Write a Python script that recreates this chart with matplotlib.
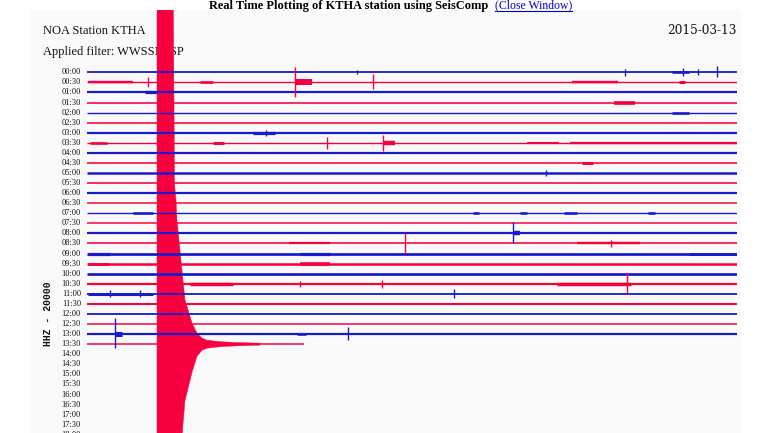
import numpy as np
import matplotlib
matplotlib.use("Agg")
import matplotlib.pyplot as plt
from matplotlib.patches import Rectangle
from matplotlib.lines import Line2D

# ---------------- data ----------------
page_title = "Real Time Plotting of KTHA station using SeisComp"
link_text = "(Close Window)"
station = "NOA Station KTHA"
date_label = "2015-03-13"
filter_label = "Applied filter: WWSSN_SP"
channel_label = "HHZ - 20000"

# hour labels visible in the window (00:00 ... 18:00)
row_labels = [f"{h:02d}:{m:02d}" for h in range(19) for m in (0, 30)][:37]

# minutes of data in each 30-minute trace (00:00 ... 13:30)
trace_minutes = [30.0] * 27 + [10.02]

# background noise half-amplitude per trace (in trace-spacing units)
noise = [0.09, 0.07, 0.11, 0.08, 0.07, 0.08, 0.11, 0.07, 0.11, 0.08,
         0.125, 0.08, 0.11, 0.075, 0.07, 0.075, 0.11, 0.08, 0.135, 0.125,
         0.135, 0.11, 0.09, 0.10, 0.09, 0.075, 0.11, 0.075]

# isolated events: row, minute, amplitude up, amplitude down
spike_row = [0, 0, 0, 0, 0, 1, 1, 1, 6, 7, 7, 10, 16, 17, 17, 21, 21, 21, 22, 22, 22, 26, 26]
spike_min = [12.46, 24.83, 27.5, 28.2, 29.08, 2.82, 9.6, 13.2, 8.26, 11.08, 13.66, 21.2,
             19.66, 14.68, 24.2, 9.83, 13.6, 24.9, 1.06, 2.45, 16.94, 1.29, 12.05]
spike_up = [0.2, 0.35, 0.4, 0.3, 0.6, 0.5, 1.5, 0.8, 0.3, 0.6, 0.8, 0.3,
            1.1, 1.0, 0.35, 0.3, 0.4, 1.1, 0.35, 0.35, 0.45, 1.6, 0.7]
spike_down = [0.2, 0.35, 0.4, 0.3, 0.5, 0.5, 1.5, 0.7, 0.3, 0.6, 0.8, 0.3,
              1.0, 0.9, 0.3, 0.3, 0.4, 1.0, 0.35, 0.35, 0.45, 1.4, 0.6]

# noisy bursts: row, start minute, end minute, half-amplitude
burst_row = [0, 1, 1, 1, 1, 1, 2, 3, 4, 6, 7, 7, 7, 7, 7, 9, 14, 14, 14, 14, 14,
             16, 17, 17, 18, 18, 18, 19, 19, 21, 21, 22, 26, 26]
burst_start = [27.0, 0.05, 5.2, 9.6, 22.4, 27.3, 2.68, 24.3, 27.0, 7.66, 0.14, 5.8, 13.66, 20.3, 22.3,
               22.85, 2.1, 17.8, 20.0, 22.0, 25.9, 19.66, 9.3, 22.6, 0.05, 9.83, 27.8, 9.83, 0.05,
               4.75, 21.7, 0.05, 1.29, 9.7]
burst_end = [27.8, 2.12, 5.8, 10.4, 24.5, 27.6, 3.23, 25.3, 27.8, 8.68, 0.92, 6.3, 14.2, 21.8, 30.0,
             23.35, 3.05, 18.1, 20.3, 22.6, 26.2, 20.0, 11.2, 25.5, 1.06, 11.2, 30.0, 11.2, 1.0,
             6.74, 25.1, 3.05, 1.6, 10.1]
burst_amp = [0.13, 0.12, 0.13, 0.3, 0.12, 0.15, 0.16, 0.18, 0.13, 0.16, 0.13, 0.15, 0.22, 0.1, 0.11,
             0.15, 0.13, 0.13, 0.13, 0.13, 0.13, 0.22, 0.11, 0.12, 0.16, 0.16, 0.15, 0.18, 0.14,
             0.17, 0.17, 0.15, 0.25, 0.13]

# large earthquake on the 13:30 trace: envelope (minutes, amplitude up / down in trace units)
quake_row = 27
quake_min = [3.231, 3.969, 4.038, 4.108, 4.154, 4.246, 4.338, 4.431, 4.523, 4.708,
             4.846, 5.077, 5.308, 5.538, 5.908, 6.369, 7.062, 7.985]
quake_up = [39.7, 39.7, 15.9, 14.3, 12.3, 10.3, 8.3, 6.3, 4.4, 3.1,
            2.1, 1.1, 0.6, 0.4, 0.3, 0.22, 0.15, 0.1]
quake_down = [39.7, 39.7, 29.8, 24.8, 19.8, 14.9, 10.9, 7.9, 5.6, 4.0,
              2.8, 1.2, 0.6, 0.4, 0.3, 0.22, 0.15, 0.1]

BLUE = "#1a1acc"
RED = "#f80040"

# ---------------- layout ----------------
W, H = 770, 433
fig = plt.figure(figsize=(W / 100, H / 100), dpi=100)
fig.patch.set_facecolor("white")

bg = fig.add_axes([0, 0, 1, 1])
bg.set_xlim(0, W)
bg.set_ylim(H, 0)
bg.axis("off")
bg.set_zorder(1)
bg.add_patch(Rectangle((30, 10), 711, 430, facecolor="#fafafa", edgecolor="none"))

serif = "Liberation Serif"
bg.text(43, 31, station, fontsize=9, family=serif, color="#111111", va="center", ha="left")
bg.text(737, 31, date_label, fontsize=8.7, family="DejaVu Serif", color="#111111",
        va="center", ha="right")
bg.text(43, 52, filter_label, fontsize=9, family=serif, color="#111111", va="center", ha="left")
bg.text(48, 314, channel_label, fontsize=7, family="Liberation Mono", weight="bold",
        color="#111111", va="center", ha="center", rotation=90)

t1 = bg.text(209, 8.5, page_title, fontsize=8.9, family=serif, weight="bold",
             color="black", va="baseline", ha="left")
t2 = bg.text(495, 8.5, link_text, fontsize=8.5, family=serif,
             color="#0000cc", va="baseline", ha="left")

x0, x1 = 87, 737
top, bot = 10, 433
row0, pitch = 72.3, 10.07
ax = fig.add_axes([x0 / W, 0, (x1 - x0) / W, (bot - top) / H])
ax.set_zorder(2)
ax.set_xlim(0, 30)
ax.set_ylim((bot - row0) / pitch, (top - row0) / pitch)
ax.axis("off")
pt_per_row = pitch * 72 / 100

for i, end in enumerate(trace_minutes):
    c = BLUE if i % 2 == 0 else RED
    ax.plot([0, end], [i, i], color=c, lw=max(2 * noise[i] * pt_per_row, 1.0),
            solid_capstyle="butt")

for r, s, e, a in zip(burst_row, burst_start, burst_end, burst_amp):
    c = BLUE if r % 2 == 0 else RED
    ax.plot([s, e], [r, r], color=c, lw=2 * a * pt_per_row, solid_capstyle="butt")

for r, t, u, d in zip(spike_row, spike_min, spike_up, spike_down):
    c = BLUE if r % 2 == 0 else RED
    ax.vlines(t, r - u, r + d, color=c, lw=1.0)

qm = np.array(quake_min)
ax.fill_between(qm, quake_row - np.array(quake_up), quake_row + np.array(quake_down),
                color=RED, lw=0.3, edgecolor=RED)

for i, lab in enumerate(row_labels):
    ax.text(-0.28, i, lab, ha="right", va="center", fontsize=6, family=serif,
            color="#111111", clip_on=False)

# underline for the link
fig.canvas.draw()
bb = t2.get_window_extent()
uy = bb.y0 + 0.5
fig.add_artist(Line2D([bb.x0 / W, bb.x1 / W], [uy / H, uy / H], color="#0000cc", lw=0.8))

fig.savefig("out.png", dpi=100)
